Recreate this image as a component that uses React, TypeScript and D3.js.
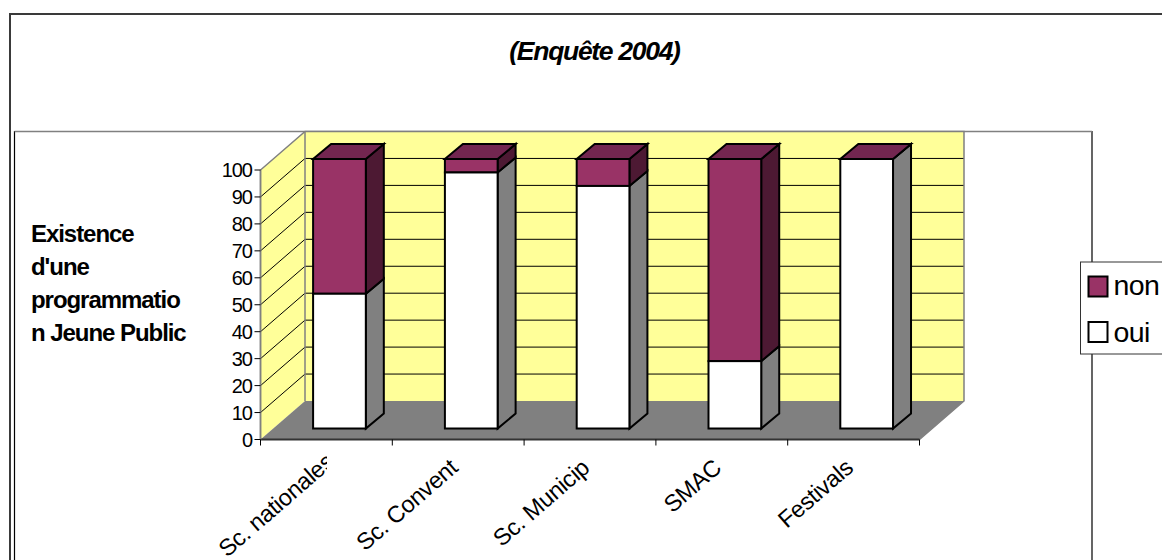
import React from "react";
import * as d3 from "d3";

const categories = ["Sc. nationales", "Sc. Convent", "Sc. Municip", "SMAC", "Festivals"];
const oui = [50, 95, 90, 25, 100];
const non = [50, 5, 10, 75, 0];
const yTicks = [0, 10, 20, 30, 40, 50, 60, 70, 80, 90, 100];
const yTitle = ["Existence", "d'une", "programmatio", "n Jeune Public"];
const legendItems = [
  { label: "non", fill: "#993366" },
  { label: "oui", fill: "#ffffff" },
];

const FONT = "'Liberation Sans', Arial, sans-serif";
const W = 1162, H = 560;
const wallDx = 44.5, wallDy = 38.5;
const barDx = 18, barDy = 15;
const liftX = 52.6, liftY = 11;

export default function App() {
  const x = d3.scaleBand<string>().domain(categories).range([260.5, 919.5]);
  const y = d3.scaleLinear().domain([0, 100]).range([439.5, 170]);
  const bw = x.bandwidth();
  const barW = bw * 0.4;
  const path = d3.line();

  const face = (pts: [number, number][]) => path(pts)! + "Z";

  const segments = categories.map((c, i) => {
    const x0 = x(c)! + liftX;
    const x1 = x0 + barW;
    const yy = (v: number) => y(v) - liftY;
    return { c, x0, x1, yOui: yy(oui[i]), yBase: yy(0), yTop: yy(oui[i] + non[i]) };
  });

  return (
    <svg width={W} height={H} viewBox={`0 0 ${W} ${H}`} style={{ position: "absolute", left: 0, top: 0, display: "block", background: "#fff" }} fontFamily={FONT}>
      <defs>
        <clipPath id="firstLabel"><rect x={0} y={445} width={327} height={115} /></clipPath>
      </defs>
      {/* outer chart frame */}
      <path d={`M10,${H}V14H${W}`} fill="none" stroke="#3a3a3a" strokeWidth={2} />
      {/* plot area frame */}
      <path d={`M14.5,${H}V131.5H1092V${H}`} fill="none" stroke="#000" strokeWidth={1.2} />
      <path d="M14.5,131.5H1092" fill="none" stroke="#808080" strokeWidth={1.5} />

      <text x={594.5} y={60} textAnchor="middle" fontSize={26.5} fontWeight="bold" fontStyle="italic" letterSpacing={-1.3}>(Enquête 2004)</text>

      {yTitle.map((t, i) => (
        <text key={t} x={31} y={242 + i * 33} fontSize={24} fontWeight="bold" letterSpacing={-1.05}>{t}</text>
      ))}

      {/* walls */}
      <path d={face([[x.range()[0], y(0)], [x.range()[0], y(100)], [x.range()[0] + wallDx, y(100) - wallDy], [x.range()[0] + wallDx, y(0) - wallDy]])} fill="#ffff99" />
      <path d={face([[x.range()[0] + wallDx, y(0) - wallDy], [x.range()[0] + wallDx, y(100) - wallDy], [x.range()[1] + wallDx, y(100) - wallDy], [x.range()[1] + wallDx, y(0) - wallDy]])} fill="#ffff99" />
      {yTicks.filter((t) => t > 0 && t < 100).map((t) => (
        <g key={t} stroke="#000" strokeWidth={1}>
          <line x1={x.range()[0]} y1={y(t)} x2={x.range()[0] + wallDx} y2={y(t) - wallDy} />
          <line x1={x.range()[0] + wallDx} y1={y(t) - wallDy} x2={x.range()[1] + wallDx} y2={y(t) - wallDy} />
        </g>
      ))}
      {/* floor */}
      <path d={face([[x.range()[0], y(0)], [x.range()[1], y(0)], [x.range()[1] + wallDx, y(0) - wallDy], [x.range()[0] + wallDx, y(0) - wallDy]])} fill="#808080" />
      {/* wall edges */}
      <path d={`M${x.range()[0]},${y(0)}V${y(100)}L${x.range()[0] + wallDx},${y(100) - wallDy}H${x.range()[1] + wallDx}V${y(0) - wallDy}L${x.range()[1]},${y(0)}`} fill="none" stroke="#808080" strokeWidth={1.5} />
      <path d={`M${x.range()[0] + wallDx},${y(100) - wallDy}V${y(0) - wallDy}`} fill="none" stroke="#808080" strokeWidth={1.5} />

      {/* axes */}
      <line x1={x.range()[0]} x2={x.range()[1]} y1={y(0)} y2={y(0)} stroke="#333" strokeWidth={2} />
      <line x1={x.range()[0]} x2={x.range()[0]} y1={y(0)} y2={y(100)} stroke="#808080" strokeWidth={1.5} />
      {yTicks.map((t) => (
        <g key={t}>
          <line x1={x.range()[0] - 6} x2={x.range()[0]} y1={y(t)} y2={y(t)} stroke="#000" />
          <text x={252} y={y(t) + 7} textAnchor="end" fontSize={20} letterSpacing={-1}>{t}</text>
        </g>
      ))}
      {[...categories.map((c) => x(c)!), x.range()[1]].map((p) => (
        <line key={p} x1={p} x2={p} y1={y(0)} y2={y(0) + 6} stroke="#000" />
      ))}

      {/* bars */}
      {segments.map((s) => (
        <g key={s.c} stroke="#000" strokeWidth={2} strokeLinejoin="miter">
          <path d={face([[s.x1, s.yBase], [s.x1, s.yOui], [s.x1 + barDx, s.yOui - barDy], [s.x1 + barDx, s.yBase - barDy]])} fill="#808080" />
          <path d={face([[s.x1, s.yOui], [s.x1, s.yTop], [s.x1 + barDx, s.yTop - barDy], [s.x1 + barDx, s.yOui - barDy]])} fill="#4d1933" />
          <path d={face([[s.x0, s.yTop], [s.x1, s.yTop], [s.x1 + barDx, s.yTop - barDy], [s.x0 + barDx, s.yTop - barDy]])} fill="#732650" />
          <rect x={s.x0} width={barW} y={s.yTop} height={s.yOui - s.yTop} fill="#993366" />
          <rect x={s.x0} width={barW} y={s.yOui} height={s.yBase - s.yOui} fill="#fff" />
        </g>
      ))}

      {/* category labels */}
      {categories.map((c, i) => {
        const cx = x(c)! + bw / 2;
        const label = (
          <text key={c} transform={`translate(${i === 0 ? cx + 9 : cx + 1},${i === 0 ? 464 : 470}) rotate(-41)`} textAnchor="end" fontSize={23.5} letterSpacing={-0.3}>{c}</text>
        );
        return i === 0 ? <g key={c} clipPath="url(#firstLabel)">{label}</g> : label;
      })}

      {/* legend */}
      <rect x={1080.5} y={262} width={90} height={92} fill="#fff" stroke="#333" strokeWidth={1} />
      {legendItems.map((l, i) => (
        <g key={l.label}>
          <rect x={1088.5} y={276.5 + i * 45.5} width={19} height={20} fill={l.fill} stroke="#000" strokeWidth={2} />
          <text x={1113.5} y={295 + i * 46.5} fontSize={28.5} letterSpacing={-0.6}>{l.label}</text>
        </g>
      ))}
    </svg>
  );
}
